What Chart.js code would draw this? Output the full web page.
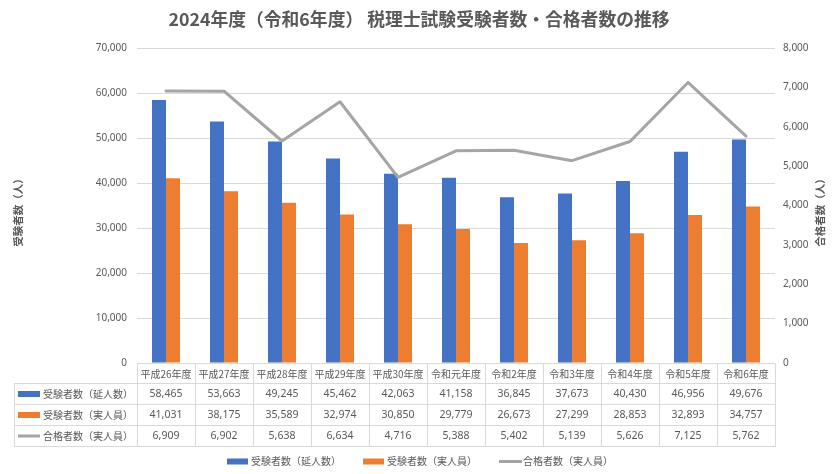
<!DOCTYPE html>
<html lang="ja">
<head>
<meta charset="utf-8">
<title>税理士試験受験者数・合格者数の推移</title>
<script src="https://cdn.jsdelivr.net/npm/chart.js@4.4.1/dist/chart.umd.min.js"></script>
<style>
  html, body { margin: 0; padding: 0; background: #fff; }
  #wrap { position: relative; width: 838px; height: 474px; }
</style>
</head>
<body>
<div id="wrap"><canvas id="chart"></canvas></div>
<script>
const categories = ['平成26年度', '平成27年度', '平成28年度', '平成29年度', '平成30年度', '令和元年度', '令和2年度', '令和3年度', '令和4年度', '令和5年度', '令和6年度'];
const examineesTotal = [58465, 53663, 49245, 45462, 42063, 41158, 36845, 37673, 40430, 46956, 49676];
const examineesActual = [41031, 38175, 35589, 32974, 30850, 29779, 26673, 27299, 28853, 32893, 34757];
const passers = [6909, 6902, 5638, 6634, 4716, 5388, 5402, 5139, 5626, 7125, 5762];
const seriesNames = ['受験者数（延人数）', '受験者数（実人員）', '合格者数（実人員）'];
const seriesColors = ['#4472C4', '#ED7D31', '#A5A5A5'];

const TEXT = '#595959';
const GRID = '#D9D9D9';
const JP = '"Noto Sans CJK JP", "Noto Sans", sans-serif';
const fmt = v => v.toLocaleString('en-US');

// title, axis titles, data table and legend drawn under the plot
const extrasPlugin = {
  id: 'extras',
  afterDraw(chart) {
    const { ctx, chartArea } = chart;
    const x = chart.scales.x;
    const top = chartArea.bottom;
    const rowH = 21;
    const headH = 20;
    const tableLeft = 14;
    const right = chartArea.right;
    const colW = (chartArea.right - chartArea.left) / categories.length;

    ctx.save();

    // title
    ctx.fillStyle = TEXT;
    ctx.font = 'bold 17.8px ' + JP;
    ctx.textAlign = 'center';
    ctx.textBaseline = 'middle';
    ctx.fillText('2024年度（令和6年度） 税理士試験受験者数・合格者数の推移', 419, 19);

    // axis titles
    ctx.font = 'bold 10.5px ' + JP;
    [[18, '受験者数（人）'], [820, '合格者数（人）']].forEach(([px, label]) => {
      ctx.save();
      ctx.translate(px, 210);
      ctx.rotate(-Math.PI / 2);
      ctx.fillText(label, 0, 0);
      ctx.restore();
    });

    // table grid
    ctx.strokeStyle = GRID;
    ctx.lineWidth = 1;
    ctx.beginPath();
    const hLines = [top, top + headH, top + headH + rowH, top + headH + rowH * 2, top + headH + rowH * 3];
    hLines.forEach((y, i) => {
      const l = i === 0 ? chartArea.left : tableLeft;
      ctx.moveTo(l, Math.round(y) + 0.5);
      ctx.lineTo(right, Math.round(y) + 0.5);
    });
    const bottom = Math.round(hLines[4]) + 0.5;
    ctx.moveTo(tableLeft + 0.5, Math.round(hLines[1]) + 0.5);
    ctx.lineTo(tableLeft + 0.5, bottom);
    for (let i = 0; i <= categories.length; i++) {
      const cx = Math.round(chartArea.left + colW * i) + 0.5;
      ctx.moveTo(cx, Math.round(top) + 0.5);
      ctx.lineTo(cx, bottom);
    }
    ctx.stroke();

    // header labels
    ctx.fillStyle = TEXT;
    ctx.font = '10px ' + JP;
    ctx.textAlign = 'center';
    categories.forEach((c, i) => {
      ctx.fillText(c, x.getPixelForValue(i), top + headH / 2 + 1);
    });

    // rows
    const rows = [examineesTotal, examineesActual, passers];
    rows.forEach((vals, r) => {
      const cy = top + headH + rowH * r + rowH / 2 + 0.5;
      ctx.font = '10.5px "Noto Sans", ' + JP;
      ctx.textAlign = 'center';
      vals.forEach((v, i) => {
        ctx.fillText(fmt(v), x.getPixelForValue(i), cy);
      });
      // legend key + name
      ctx.fillStyle = seriesColors[r];
      if (r < 2) ctx.fillRect(18, Math.round(cy) - 3, 22, 6);
      else ctx.fillRect(18, Math.round(cy) - 1.5, 22, 3);
      ctx.fillStyle = TEXT;
      ctx.textAlign = 'left';
      ctx.font = '10px ' + JP;
      ctx.fillText(seriesNames[r], 43, cy);
    });

    // bottom legend
    ctx.font = '10px ' + JP;
    ctx.textAlign = 'left';
    const legendY = 461.5;
    const legendX = [227, 363, 499];
    seriesNames.forEach((name, r) => {
      ctx.fillStyle = seriesColors[r];
      if (r < 2) ctx.fillRect(legendX[r], legendY - 3, 21, 6);
      else ctx.fillRect(legendX[r], legendY - 1.5, 23, 3);
      ctx.fillStyle = TEXT;
      ctx.fillText(name, legendX[r] + 24, legendY);
    });

    ctx.restore();
  }
};

new Chart(document.getElementById('chart'), {
  type: 'bar',
  data: {
    labels: categories,
    datasets: [
      {
        type: 'line',
        label: seriesNames[2],
        data: passers,
        yAxisID: 'y2',
        borderColor: seriesColors[2],
        backgroundColor: seriesColors[2],
        borderWidth: 3,
        borderCapStyle: 'round',
        borderJoinStyle: 'round',
        pointRadius: 0,
        tension: 0,
        order: 0
      },
      {
        label: seriesNames[0],
        data: examineesTotal,
        yAxisID: 'y',
        backgroundColor: seriesColors[0],
        categoryPercentage: 0.483,
        barPercentage: 1,
        order: 1
      },
      {
        label: seriesNames[1],
        data: examineesActual,
        yAxisID: 'y',
        backgroundColor: seriesColors[1],
        categoryPercentage: 0.483,
        barPercentage: 1,
        order: 1
      }
    ]
  },
  options: {
    responsive: true,
    maintainAspectRatio: false,
    animation: false,
    layout: { padding: { top: 48, bottom: 111, left: 0, right: 0 } },
    plugins: {
      legend: { display: false },
      title: { display: false },
      tooltip: { enabled: false }
    },
    scales: {
      x: { display: false },
      y: {
        position: 'left',
        min: 0,
        max: 70000,
        ticks: {
          stepSize: 10000,
          color: TEXT,
          padding: 10,
          font: { size: 10, family: '"Noto Sans", sans-serif' },
          callback: v => fmt(v)
        },
        grid: { color: GRID, drawTicks: false },
        border: { display: false },
        afterFit: s => { s.width = 137; }
      },
      y2: {
        position: 'right',
        min: 0,
        max: 8000,
        ticks: {
          stepSize: 1000,
          color: TEXT,
          padding: 8,
          font: { size: 10, family: '"Noto Sans", sans-serif' },
          callback: v => fmt(v)
        },
        grid: { drawOnChartArea: false, drawTicks: false },
        border: { display: false },
        afterFit: s => { s.width = 63; }
      }
    }
  },
  plugins: [extrasPlugin]
});
</script>
</body>
</html>
